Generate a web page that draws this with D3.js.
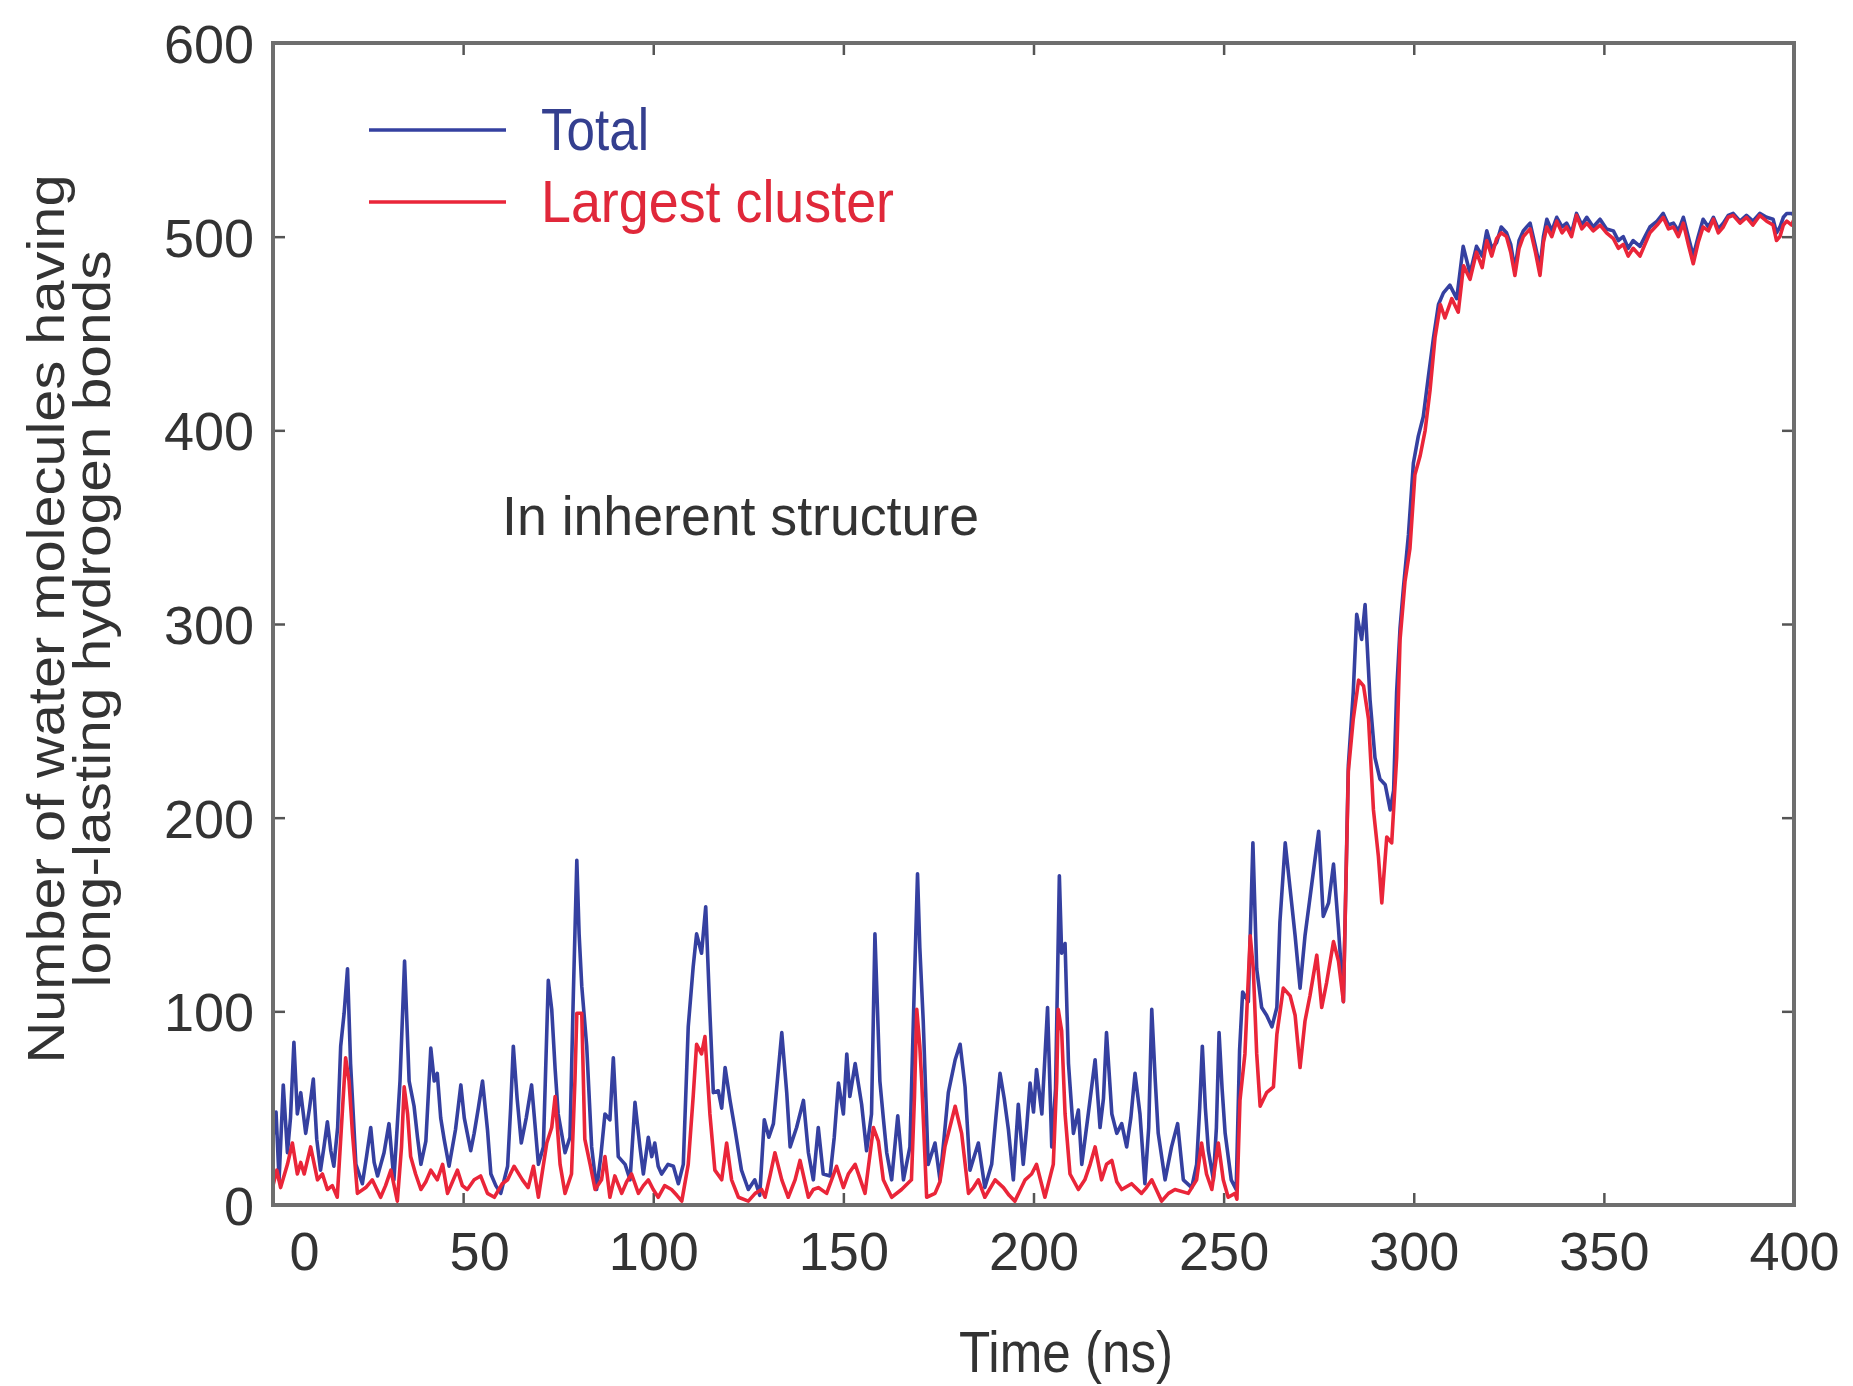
<!DOCTYPE html>
<html>
<head>
<meta charset="utf-8">
<script src="https://cdn.jsdelivr.net/npm/d3@7"></script>
<style>
  body { margin: 0; background: #fff; }
  svg { display: block; font-family: "Liberation Sans", Arial, Helvetica, sans-serif; }
</style>
</head>
<body>
<div id="chart"></div>
<script>
// Data: [time (ns), number of molecules]
const totalSeries = [
  [0,35],[0.8,48],[1.6,13],[2.7,62],[3.8,27],[4.6,45],[5.5,84],[6.4,47],[7.3,58],[8.6,37],[9.6,50],[10.6,65],
  [11.5,34],[12.5,18],[13.4,30],[14.3,43],[15.2,28],[16.0,20],[17.0,40],[17.8,82],[18.7,99],[19.6,122],[20.4,73],
  [21.8,21],[23.5,11],[24.6,25],[25.7,40],[26.6,22],[27.5,15],[29.2,27],[30.5,42],[31.8,13],[33.4,64],[34.6,126],
  [35.8,64],[37.1,51],[38.0,35],[38.9,21],[40.2,33],[41.5,81],[42.4,64],[43.2,68],[44.1,45],[45.0,34],[46.3,20],
  [48.0,39],[49.4,62],[50.3,45],[51.1,37],[52.0,28],[52.9,37],[54.0,50],[55.1,64],[56.4,39],[57.3,16],[58.6,10],
  [59.9,6],[61.7,20],[62.5,50],[63.2,82],[64.2,55],[65.3,32],[66.6,45],[68.0,62],[69.8,21],[71.1,30],[72.4,116],
  [73.3,101],[74.2,70],[75.0,47],[76.8,27],[78.1,35],[79.0,110],[79.9,178],[80.5,140],[81.2,113],[82.5,82],[83.8,30],
  [85.1,8],[86.2,25],[87.3,47],[88.6,44],[89.5,76],[90.8,25],[92.6,21],[93.9,13],[95.2,53],[96.5,30],[97.4,16],
  [98.7,35],[99.6,25],[100.4,32],[101.3,20],[102.2,16],[103.9,21],[105.3,20],[106.6,11],[107.9,21],[109.2,92],
  [110.5,123],[111.4,140],[112.7,130],[113.8,154],[114.9,99],[115.8,58],[117.1,59],[118.0,50],[118.9,71],[120.2,54],
  [121.5,39],[123.2,18],[125.0,8],[126.7,13],[128.0,5],[129.2,44],[130.4,35],[131.6,42],[133.8,89],[135.1,58],
  [136.0,30],[137.7,40],[139.5,54],[140.8,27],[142.1,13],[143.4,40],[144.7,16],[146.5,15],[147.6,35],[148.7,63],
  [150.0,47],[150.9,78],[151.7,56],[153.1,73],[154.8,52],[156.1,28],[157.4,47],[158.3,140],[159.6,64],[160.5,45],
  [161.4,27],[162.7,13],[164.3,46],[165.8,13],[167.5,30],[168.7,116],[169.5,171],[170.1,133],[171.0,95],[172.3,21],
  [174.1,32],[175.4,13],[176.5,35],[177.6,58],[179.4,75],[180.7,83],[182.0,61],[183.3,18],[184.4,25],[185.5,32],
  [187.2,9],[189.0,21],[190.1,45],[191.2,68],[192.3,55],[193.4,39],[194.7,13],[196.0,52],[197.3,21],[198.2,40],
  [199.1,63],[200.0,48],[200.8,70],[202.2,47],[203.7,102],[204.8,30],[205.8,60],[206.8,170],[207.4,130],[208.3,135],
  [209.2,73],[210.5,37],[211.8,49],[212.7,21],[214.4,47],[216.2,75],[217.5,40],[218.4,55],[219.2,89],[220.6,47],
  [221.9,37],[223.2,42],[224.5,30],[225.6,45],[226.7,68],[228.0,47],[229.3,11],[230.3,40],[231.1,101],[232.0,65],
  [232.8,37],[234.6,13],[236.3,30],[237.9,42],[239.4,13],[241.6,9],[242.9,21],[243.7,50],[244.4,82],[245.2,50],
  [246.0,28],[247.3,13],[248.1,40],[248.8,89],[249.6,60],[250.4,37],[252.0,13],[253.3,8],[254.2,80],[255.0,110],
  [256.5,105],[257.7,187],[258.7,122],[260.0,102],[261.3,98],[262.7,92],[264.0,102],[264.8,146],[266.2,187],
  [267.5,163],[268.8,139],[270.1,112],[271.4,139],[273.2,166],[275.0,193],[276.2,149],[277.6,156],[278.9,176],
  [280.2,143],[281.5,105],[282.8,227],[284.1,265],[285.0,305],[286.3,292],[287.2,310],[288.5,261],[289.8,231],
  [291.1,220],[292.5,217],[293.8,204],[294.7,214],[295.5,265],[296.4,298],[297.3,319],[298.6,346],[299.9,383],
  [301.2,397],[302.5,407],[303.8,427],[305.2,448],[306.5,465],[307.8,471],[309.5,475],[311.3,468],[313.0,495],
  [314.8,481],[316.5,495],[318.0,490],[319.2,503],[320.5,494],[321.8,497],[323.0,505],[324.4,502],[325.5,496],
  [326.6,483],[327.7,498],[328.8,503],[330.6,507],[332.0,495],[333.2,484],[334.1,500],[335.0,509],[336.3,503],
  [337.6,510],[339.0,505],[340.2,507],[341.5,502],[342.8,512],[344.2,506],[345.5,510],[347.2,505],[349.0,509],
  [350.7,504],[352.5,503],[353.8,498],[355.1,500],[356.4,494],[357.7,498],[359.5,495],[360.8,500],[362.1,505],
  [364.0,508],[365.6,512],[367.0,506],[368.3,507],[369.6,503],[370.9,510],[372.2,500],[373.5,490],[374.8,500],
  [376.1,509],[377.5,505],[378.8,510],[380.1,504],[381.4,507],[382.7,511],[384.0,512],[385.8,508],[387.5,511],
  [389.2,508],[391.0,512],[392.8,510],[394.5,509],[395.4,502],[396.3,505],[397.2,510],[398.1,512],[399.4,512],[400,511]
];

const clusterSeries = [
  [0,10],[1.0,18],[2.0,9],[3.8,21],[5.1,32],[6.4,16],[7.3,22],[8.2,16],[9.9,30],[11.7,13],[13.0,16],[14.3,8],
  [15.6,10],[16.9,4],[18.2,47],[19.1,76],[20.0,64],[20.9,37],[22.2,6],[24.4,9],[26.1,13],[28.3,4],[29.6,10],
  [31.0,18],[32.7,2],[33.8,30],[34.5,61],[35.4,47],[36.2,25],[37.5,16],[38.9,8],[40.2,12],[41.5,18],[43.2,13],
  [44.6,21],[45.9,6],[47.2,12],[48.5,18],[49.8,10],[51.1,8],[52.9,13],[54.6,15],[56.4,6],[58.2,4],[60.3,11],
  [61.7,13],[63.4,20],[65.6,13],[67.1,9],[68.5,20],[69.8,4],[72.0,32],[73.3,40],[74.2,56],[75.5,21],[76.8,6],
  [78.5,16],[79.4,64],[79.9,99],[81.2,99],[82.0,34],[83.4,21],[84.7,8],[86.4,13],[87.3,25],[88.6,4],[89.9,15],
  [91.7,6],[93.0,12],[94.3,16],[96.1,6],[97.4,10],[98.7,13],[100.0,8],[101.3,4],[103.0,10],[104.8,8],[106.2,5],
  [107.5,2],[109.2,21],[110.5,56],[111.4,83],[112.7,78],[113.6,87],[114.9,47],[116.2,18],[118.0,13],[119.3,32],
  [120.6,13],[122.4,4],[125.0,2],[126.8,6],[128.5,8],[129.4,4],[130.7,15],[132.0,27],[133.8,13],[135.5,4],
  [137.3,13],[138.6,23],[140.8,4],[142.1,8],[143.4,9],[145.6,6],[148.2,20],[150.0,9],[151.3,16],[153.1,21],
  [155.7,6],[157.9,40],[159.2,33],[160.5,13],[162.7,4],[165.3,8],[167.9,13],[168.7,56],[169.3,101],[170.1,82],
  [170.6,64],[171.9,4],[174.1,6],[175.4,12],[176.7,30],[178.5,44],[179.4,51],[181.1,37],[182.9,6],[184.2,9],
  [185.5,13],[187.2,4],[189.9,13],[192.1,9],[193.6,5],[195.1,2],[197.8,13],[199.5,16],[200.8,21],[203.0,4],
  [205.2,21],[206.1,64],[206.5,101],[207.4,90],[208.3,47],[209.6,16],[211.8,8],[213.5,13],[214.9,21],[216.2,30],
  [217.9,13],[219.2,21],[220.6,23],[221.9,12],[223.2,8],[225.8,11],[228.4,6],[229.7,9],[231.1,13],[233.7,2],
  [235.5,6],[237.2,8],[240.7,6],[242.9,13],[244.2,32],[245.5,16],[246.9,8],[248.6,32],[249.9,13],[251.2,4],
  [253.0,6],[253.5,3],[254.3,54],[255.6,78],[257.0,139],[257.8,122],[258.7,78],[259.6,51],[261.3,58],[263.1,61],
  [264.0,88],[265.7,112],[267.5,108],[268.8,98],[270.1,71],[271.4,95],[272.7,108],[274.5,129],[275.8,102],
  [277.1,115],[278.9,136],[280.2,126],[281.5,105],[282.8,224],[284.1,251],[285.5,271],[286.8,268],[288.1,251],
  [289.4,204],[290.7,180],[291.6,156],[292.9,190],[294.2,187],[295.5,231],[296.4,292],[297.7,322],[299.0,339],
  [300.3,377],[301.7,387],[303.0,400],[304.3,421],[305.6,448],[307.0,465],[308.2,458],[310.0,468],[311.7,461],
  [313.1,485],[314.8,478],[316.5,492],[318.0,484],[319.2,498],[320.5,490],[321.8,499],[323.0,502],[324.4,500],
  [325.5,492],[326.6,480],[327.7,494],[328.8,500],[330.6,504],[332.0,492],[333.2,480],[334.1,497],[335.0,505],
  [336.3,500],[337.6,508],[339.0,502],[340.2,505],[341.5,500],[342.8,511],[344.2,504],[345.5,507],[347.2,503],
  [349.0,506],[350.7,502],[352.5,499],[353.8,494],[355.1,496],[356.4,490],[357.7,494],[359.5,490],[360.8,496],
  [362.1,502],[364.0,506],[365.6,510],[367.0,504],[368.3,505],[369.6,500],[370.9,507],[372.2,496],[373.5,486],
  [374.8,497],[376.1,505],[377.5,503],[378.8,509],[380.1,502],[381.4,505],[382.7,510],[384.0,511],[385.8,507],
  [387.5,510],[389.2,506],[391.0,511],[392.8,508],[394.5,506],[395.4,498],[396.3,500],[397.2,506],[398.1,508],
  [399.4,506],[400,509]
];

const xTicks = [0, 50, 100, 150, 200, 250, 300, 350, 400];
const yTicks = [0, 100, 200, 300, 400, 500, 600];
const seriesNames = ["Total", "Largest cluster"];

// Layout
const width = 1853, height = 1386;
const margin = { top: 43, right: 59, bottom: 181, left: 273 };
const colors = { total: "#3540a0", cluster: "#ea2539", frame: "#6e6e6e", text: "#333" };

const svg = d3.select("#chart").append("svg")
    .attr("width", width)
    .attr("height", height);

const x = d3.scaleLinear().domain([0, 400]).range([margin.left, width - margin.right]);
const y = d3.scaleLinear().domain([0, 600]).range([height - margin.bottom, margin.top]);

svg.append("defs").append("clipPath").attr("id", "plot-clip")
    .append("rect")
    .attr("x", margin.left).attr("y", margin.top)
    .attr("width", x.range()[1] - x.range()[0])
    .attr("height", y.range()[0] - y.range()[1]);

// Axes (ticks point inward on all four sides)
function styleAxis(g) {
    g.select(".domain").remove();
    g.selectAll(".tick line").attr("stroke", "#555").attr("stroke-width", 2.5);
    g.selectAll(".tick text")
        .attr("font-size", 54)
        .attr("font-family", "'Liberation Sans', Arial, sans-serif")
        .attr("fill", colors.text);
}

const xAxis = svg.append("g")
    .attr("transform", `translate(0,${y(0)})`)
    .call(d3.axisBottom(x).tickValues(xTicks).tickSize(-12).tickPadding(27).tickFormat(d3.format("d")))
    .call(styleAxis);
// the first two labels sit a little right of their ticks in the original
xAxis.selectAll(".tick text").attr("dx", d => d === 0 ? 31 : d === 50 ? 16 : 0);

svg.append("g")
    .attr("transform", `translate(0,${y(600)})`)
    .call(d3.axisTop(x).tickValues(xTicks).tickSize(-12).tickFormat(""))
    .call(styleAxis);

svg.append("g")
    .attr("transform", `translate(${x(0)},0)`)
    .call(d3.axisLeft(y).tickValues(yTicks).tickSize(-12).tickPadding(19).tickFormat(d3.format("d")))
    .call(styleAxis)
    .selectAll(".tick text").attr("dy", "0.36em");

svg.append("g")
    .attr("transform", `translate(${x(400)},0)`)
    .call(d3.axisRight(y).tickValues(yTicks).tickSize(-12).tickFormat(""))
    .call(styleAxis);

// Lines
const line = d3.line().x(d => x(d[0])).y(d => y(d[1]));
const plot = svg.append("g").attr("clip-path", "url(#plot-clip)");

plot.append("path")
    .datum(totalSeries)
    .attr("fill", "none")
    .attr("stroke", colors.total)
    .attr("stroke-width", 3.6)
    .attr("stroke-linejoin", "round")
    .attr("d", line);

plot.append("path")
    .datum(clusterSeries)
    .attr("fill", "none")
    .attr("stroke", colors.cluster)
    .attr("stroke-width", 3.6)
    .attr("stroke-linejoin", "round")
    .attr("d", line);

// Frame
svg.append("rect")
    .attr("x", x(0)).attr("y", y(600))
    .attr("width", x(400) - x(0))
    .attr("height", y(0) - y(600))
    .attr("fill", "none")
    .attr("stroke", colors.frame)
    .attr("stroke-width", 4);

// Legend
const legend = svg.append("g");
const legendRows = [
    { name: seriesNames[0], color: colors.total, text: "#343f8f", y: 130, len: 108 },
    { name: seriesNames[1], color: colors.cluster, text: "#e0283a", y: 202, len: 353 }
];
legendRows.forEach(r => {
    legend.append("line")
        .attr("x1", 369).attr("x2", 506)
        .attr("y1", r.y).attr("y2", r.y)
        .attr("stroke", r.color).attr("stroke-width", 3.6);
    legend.append("text")
        .attr("x", 541).attr("y", r.y + 20)
        .attr("font-size", 60)
        .attr("fill", r.text)
        .attr("textLength", r.len)
        .attr("lengthAdjust", "spacingAndGlyphs")
        .text(r.name);
});

// Annotation
svg.append("text")
    .attr("x", 502).attr("y", 535)
    .attr("font-size", 56)
    .attr("fill", colors.text)
    .attr("textLength", 477)
    .attr("lengthAdjust", "spacingAndGlyphs")
    .text("In inherent structure");

// Axis titles
svg.append("text")
    .attr("x", 1066).attr("y", 1372)
    .attr("text-anchor", "middle")
    .attr("font-size", 58)
    .attr("fill", colors.text)
    .attr("textLength", 214)
    .attr("lengthAdjust", "spacingAndGlyphs")
    .text("Time (ns)");

const yTitle = [
    { text: "Number of water molecules having", x: 64, len: 889 },
    { text: "long-lasting hydrogen bonds", x: 110, len: 737 }
];
yTitle.forEach(t => {
    svg.append("text")
        .attr("transform", `translate(${t.x},619) rotate(-90)`)
        .attr("text-anchor", "middle")
        .attr("font-size", 52)
        .attr("fill", colors.text)
        .attr("textLength", t.len)
        .attr("lengthAdjust", "spacingAndGlyphs")
        .text(t.text);
});
</script>
</body>
</html>
